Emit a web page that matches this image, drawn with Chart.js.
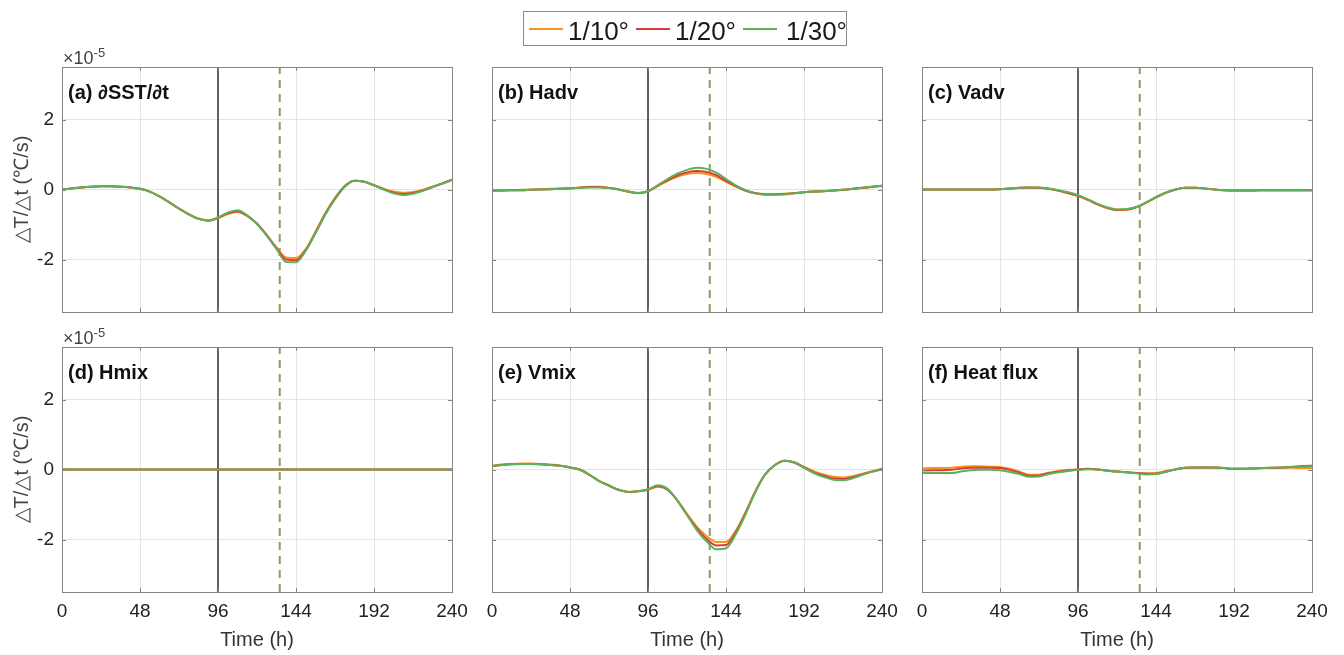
<!DOCTYPE html>
<html><head><meta charset="utf-8">
<script src="https://cdn.jsdelivr.net/npm/chart.js@4.4.1/dist/chart.umd.min.js"></script>
<style>
body{margin:0;background:#fff;}
#wrap{position:relative;width:1344px;height:655px;overflow:hidden;font-family:'Liberation Sans',Arial,sans-serif;}
.cv{position:absolute;}
.lab{position:absolute;font-weight:bold;font-size:20px;line-height:1;color:#111;white-space:nowrap;}
.exp{position:absolute;font-size:18px;line-height:1;color:#444;white-space:nowrap;}
.exp sup{font-size:13px;vertical-align:7px;}
#legend{position:absolute;left:523px;top:11px;width:322px;height:33px;border:1px solid #8a8a8a;background:#fff;}
.lgl{position:absolute;height:2px;width:34px;top:16px;}
.lgt{position:absolute;font-size:26px;line-height:1;top:6px;color:#1a1a1a;white-space:nowrap;}
</style></head>
<body><div id="wrap"></div>
<script>
// ---- data (values in units of 1e-5 °C/s) ----
const times = [0,6,12,18,24,30,36,42,48,54,60,66,72,78,84,90,96,102,108,114,120,126,132,138,144,150,156,162,168,174,180,186,192,198,204,210,216,222,228,234,240];
const xTicks = [0,48,96,144,192,240];
const yTicks = [-2,0,2];
const yRange = [-3.5,3.5];
const seriesNames = ['1/10°','1/20°','1/30°'];
const eventLines = [96,134];
const panelTitles = ['(a) ∂SST/∂t','(b) Hadv','(c) Vadv','(d) Hmix','(e) Vmix','(f) Heat flux'];

const sstO = [0.00,0.03,0.06,0.08,0.09,0.09,0.08,0.06,0.02,-0.06,-0.19,-0.36,-0.54,-0.70,-0.83,-0.88,-0.82,-0.70,-0.64,-0.76,-0.98,-1.30,-1.65,-1.94,-1.96,-1.70,-1.21,-0.68,-0.24,0.10,0.25,0.22,0.12,0.02,-0.06,-0.09,-0.07,-0.01,0.08,0.17,0.27];
const sstR = [0.00,0.03,0.06,0.08,0.09,0.09,0.08,0.06,0.02,-0.06,-0.20,-0.37,-0.55,-0.71,-0.84,-0.89,-0.81,-0.68,-0.62,-0.75,-0.98,-1.31,-1.68,-2.00,-2.02,-1.73,-1.23,-0.70,-0.26,0.09,0.25,0.22,0.12,0.01,-0.09,-0.13,-0.10,-0.03,0.07,0.17,0.28];
const sstG = [0.00,0.03,0.06,0.08,0.09,0.09,0.08,0.06,0.02,-0.06,-0.20,-0.37,-0.55,-0.71,-0.84,-0.89,-0.80,-0.66,-0.59,-0.74,-0.98,-1.32,-1.70,-2.07,-2.08,-1.75,-1.25,-0.72,-0.28,0.08,0.25,0.23,0.12,0.00,-0.11,-0.16,-0.12,-0.04,0.07,0.17,0.28];

const hadvO = [-0.03,-0.03,-0.02,-0.01,0.00,0.01,0.02,0.03,0.04,0.06,0.08,0.08,0.05,0.00,-0.07,-0.11,-0.06,0.10,0.24,0.36,0.44,0.47,0.44,0.36,0.22,0.08,-0.03,-0.10,-0.13,-0.13,-0.12,-0.10,-0.08,-0.06,-0.04,-0.03,-0.01,0.02,0.04,0.07,0.10];
const hadvR = [-0.03,-0.03,-0.02,-0.02,-0.01,0.00,0.01,0.02,0.03,0.05,0.07,0.07,0.04,0.00,-0.06,-0.10,-0.05,0.11,0.27,0.40,0.49,0.53,0.50,0.41,0.25,0.10,-0.03,-0.11,-0.14,-0.14,-0.13,-0.11,-0.08,-0.06,-0.05,-0.03,-0.01,0.02,0.05,0.08,0.11];
const hadvG = [-0.03,-0.03,-0.02,-0.02,-0.01,0.00,0.01,0.02,0.03,0.05,0.06,0.06,0.04,0.00,-0.06,-0.10,-0.05,0.12,0.30,0.45,0.56,0.62,0.59,0.48,0.30,0.12,-0.02,-0.11,-0.15,-0.15,-0.14,-0.11,-0.08,-0.06,-0.05,-0.03,-0.01,0.02,0.05,0.08,0.11];

const vadvO = [0.00,0.00,0.00,0.00,0.00,0.00,0.00,0.00,0.01,0.02,0.04,0.05,0.05,0.02,-0.04,-0.11,-0.19,-0.30,-0.43,-0.53,-0.59,-0.58,-0.51,-0.38,-0.23,-0.10,0.00,0.05,0.05,0.03,0.00,-0.02,-0.03,-0.03,-0.03,-0.02,-0.02,-0.02,-0.02,-0.02,-0.02];
const vadvR = [0.00,0.00,0.00,0.00,0.00,0.00,0.00,0.00,0.01,0.03,0.05,0.06,0.05,0.02,-0.03,-0.10,-0.18,-0.29,-0.42,-0.52,-0.58,-0.57,-0.50,-0.37,-0.22,-0.09,0.00,0.05,0.05,0.03,0.00,-0.02,-0.03,-0.03,-0.03,-0.02,-0.02,-0.02,-0.02,-0.02,-0.02];
const vadvG = [0.00,0.00,0.00,0.00,0.00,0.00,0.00,0.00,0.01,0.03,0.05,0.06,0.06,0.03,-0.02,-0.08,-0.16,-0.28,-0.41,-0.51,-0.57,-0.56,-0.50,-0.37,-0.22,-0.09,0.00,0.05,0.05,0.03,0.00,-0.02,-0.03,-0.03,-0.03,-0.02,-0.02,-0.02,-0.02,-0.02,-0.02];

const hmixO = [0,0,0,0,0,0,0,0,0,0,0,0,0,0,0,0,0,0,0,0,0,0,0,0,0,0,0,0,0,0,0,0,0,0,0,0,0,0,0,0,0];
const hmixR = [0,0,0,0,0,0,0,0,0,0,0,0,0,0,0,0,0,0,0,0,0,0,0,0,0,0,0,0,0,0,0,0,0,0,0,0,0,0,0,0,0];
const hmixG = [0,0,0,0,0,0,0,0,0,0,0,0,0,0,0,0,0,0,0,0,0,0,0,0,0,0,0,0,0,0,0,0,0,0,0,0,0,0,0,0,0];

const vmixO = [0.11,0.14,0.16,0.17,0.17,0.16,0.14,0.11,0.06,-0.01,-0.16,-0.33,-0.47,-0.59,-0.64,-0.62,-0.58,-0.49,-0.58,-0.88,-1.27,-1.63,-1.90,-2.07,-2.07,-1.75,-1.22,-0.62,-0.14,0.13,0.25,0.21,0.08,-0.05,-0.14,-0.21,-0.23,-0.19,-0.12,-0.05,0.02];
const vmixR = [0.10,0.13,0.15,0.16,0.16,0.15,0.13,0.11,0.06,0.00,-0.15,-0.33,-0.46,-0.58,-0.64,-0.62,-0.57,-0.47,-0.57,-0.88,-1.29,-1.68,-1.98,-2.17,-2.16,-1.80,-1.25,-0.64,-0.15,0.12,0.25,0.20,0.06,-0.08,-0.18,-0.26,-0.27,-0.22,-0.14,-0.06,0.01];
const vmixG = [0.10,0.13,0.15,0.16,0.16,0.15,0.13,0.11,0.06,0.00,-0.15,-0.33,-0.45,-0.58,-0.64,-0.62,-0.56,-0.45,-0.55,-0.88,-1.30,-1.73,-2.05,-2.28,-2.25,-1.85,-1.28,-0.65,-0.15,0.12,0.25,0.20,0.05,-0.10,-0.21,-0.29,-0.31,-0.25,-0.15,-0.06,0.01];

const hfO = [0.03,0.04,0.04,0.05,0.08,0.09,0.09,0.08,0.07,0.02,-0.06,-0.15,-0.15,-0.09,-0.04,-0.01,0.00,0.02,0.00,-0.03,-0.06,-0.08,-0.10,-0.11,-0.10,-0.05,0.01,0.05,0.06,0.06,0.05,0.04,0.02,0.02,0.03,0.04,0.05,0.05,0.05,0.04,0.04];
const hfR = [-0.03,-0.02,-0.02,-0.01,0.03,0.05,0.05,0.05,0.04,-0.01,-0.09,-0.18,-0.17,-0.11,-0.06,-0.03,0.00,0.02,0.00,-0.03,-0.06,-0.08,-0.10,-0.12,-0.12,-0.06,0.00,0.05,0.06,0.06,0.06,0.04,0.02,0.02,0.03,0.04,0.05,0.06,0.08,0.10,0.11];
const hfG = [-0.10,-0.10,-0.10,-0.10,-0.06,-0.02,-0.01,-0.01,-0.02,-0.07,-0.13,-0.21,-0.20,-0.13,-0.08,-0.04,-0.01,0.01,0.00,-0.03,-0.06,-0.08,-0.11,-0.14,-0.13,-0.07,0.00,0.05,0.06,0.06,0.06,0.04,0.02,0.02,0.03,0.04,0.05,0.06,0.07,0.08,0.10];

// ---- styling ----
const colors = ['#F7941D','#D93A3A','#5CB25C'];
const FONT = "'Liberation Sans', Arial, sans-serif";
const panelSeries = [[sstO,sstR,sstG],[hadvO,hadvR,hadvG],[vadvO,vadvR,vadvG],[hmixO,hmixR,hmixG],[vmixO,vmixR,vmixG],[hfO,hfR,hfG]];
const plotLeft = [62,492,922];
const plotTop = [67,347];
const PW = 390, PH = 245;

const framePlugin = {
  id:'frame',
  afterDatasetsDraw(chart){
    const {ctx, chartArea:a, scales} = chart;
    ctx.save();
    ctx.strokeStyle = '#858585';
    ctx.lineWidth = 1;
    ctx.beginPath();
    xTicks.forEach(v=>{
      const px = Math.round(scales.x.getPixelForValue(v))+0.5;
      ctx.moveTo(px,a.bottom); ctx.lineTo(px,a.bottom-4);
      ctx.moveTo(px,a.top); ctx.lineTo(px,a.top+4);
    });
    yTicks.forEach(v=>{
      const py = Math.round(scales.y.getPixelForValue(v))+0.5;
      ctx.moveTo(a.left,py); ctx.lineTo(a.left+4,py);
      ctx.moveTo(a.right,py); ctx.lineTo(a.right-4,py);
    });
    ctx.stroke();
    ctx.strokeRect(Math.round(a.left)+0.5, Math.round(a.top)+0.5, Math.round(a.right-a.left), Math.round(a.bottom-a.top));
    ctx.restore();
  }
};

const wrap = document.getElementById('wrap');

function makePanel(idx){
  const row = Math.floor(idx/3), col = idx%3;
  const yw = col===0 ? 62 : 24;
  const padTop = 24, padRight = 30;
  const xh = row===1 ? 60 : 4;
  const padBottom = row===1 ? 0 : 22;
  const W = yw + PW + padRight, H = padTop + PH + xh + padBottom;
  const div = document.createElement('div');
  div.className = 'cv';
  div.style.left = (plotLeft[col]-yw)+'px';
  div.style.top = (plotTop[row]-padTop)+'px';
  div.style.width = W+'px'; div.style.height = H+'px';
  const cv = document.createElement('canvas');
  cv.width = W; cv.height = H;
  cv.style.width = W+'px'; cv.style.height = H+'px';
  div.appendChild(cv);
  wrap.appendChild(div);

  const series = panelSeries[idx];
  const datasets = series.map((vals,k)=>({
    label: seriesNames[k],
    data: times.map((t,i)=>({x:t,y:vals[i]})),
    borderColor: colors[k],
    borderWidth: 2,
    pointRadius: 0,
    cubicInterpolationMode: 'monotone',
    order: 3-k
  }));
  datasets.push({
    label:'landfall', data:[{x:eventLines[0],y:yRange[0]},{x:eventLines[0],y:yRange[1]}],
    borderColor:'#3d3d3d', borderWidth:1.6, pointRadius:0, order:10
  });
  datasets.push({
    label:'event', data:[{x:eventLines[1],y:yRange[0]},{x:eventLines[1],y:yRange[1]}],
    borderColor:'#8E9A62', borderWidth:2, borderDash:[8,6], pointRadius:0, order:9
  });

  new Chart(cv, {
    type:'line',
    data:{datasets},
    options:{
      responsive:false, animation:false, devicePixelRatio:1,
      layout:{padding:{top:padTop,right:padRight,bottom:padBottom,left:0}},
      plugins:{legend:{display:false}, tooltip:{enabled:false}},
      scales:{
        x:{
          type:'linear', min:0, max:240,
          afterBuildTicks:s=>{s.ticks = xTicks.map(v=>({value:v}));},
          afterFit:s=>{s.height = xh;},
          ticks:{display:row===1, color:'#222', font:{family:FONT,size:19}, padding:8, maxRotation:0, autoSkip:false},
          grid:{color:'#e4e4e4', drawTicks:false, lineWidth:1},
          border:{display:false},
          title:{display:row===1, text:'Time (h)', color:'#333', font:{family:FONT,size:20}, padding:{top:0,bottom:0}}
        },
        y:{
          type:'linear', min:yRange[0], max:yRange[1],
          afterBuildTicks:s=>{s.ticks = yTicks.map(v=>({value:v}));},
          afterFit:s=>{s.width = yw;},
          ticks:{display:col===0, color:'#222', font:{family:FONT,size:19}, padding:8},
          grid:{color:'#e4e4e4', drawTicks:false, lineWidth:1},
          border:{display:false},
          title:{display:col===0, text:'△T/△t (℃/s)', color:'#444', font:{family:FONT,size:20}, padding:{top:10,bottom:0}}
        }
      }
    },
    plugins:[framePlugin]
  });

  const lab = document.createElement('div');
  lab.className = 'lab';
  lab.textContent = panelTitles[idx];
  lab.style.left = (plotLeft[col]+6)+'px';
  lab.style.top = (plotTop[row]+15)+'px';
  wrap.appendChild(lab);

  if (col===0){
    const ex = document.createElement('div');
    ex.className = 'exp';
    ex.innerHTML = '×10<sup>-5</sup>';
    ex.style.left = (plotLeft[col]+1)+'px';
    ex.style.top = (plotTop[row]-21)+'px';
    wrap.appendChild(ex);
  }
}

for (let i=0;i<6;i++) makePanel(i);

// legend
const lg = document.createElement('div');
lg.id = 'legend';
wrap.appendChild(lg);
const lgPos = [[5,44],[112,151],[219,262]];
seriesNames.forEach((n,k)=>{
  const l = document.createElement('div');
  l.className='lgl'; l.style.left = lgPos[k][0]+'px'; l.style.background = colors[k];
  lg.appendChild(l);
  const t = document.createElement('div');
  t.className='lgt'; t.style.left = lgPos[k][1]+'px'; t.textContent = n;
  lg.appendChild(t);
});
</script>
</body></html>
